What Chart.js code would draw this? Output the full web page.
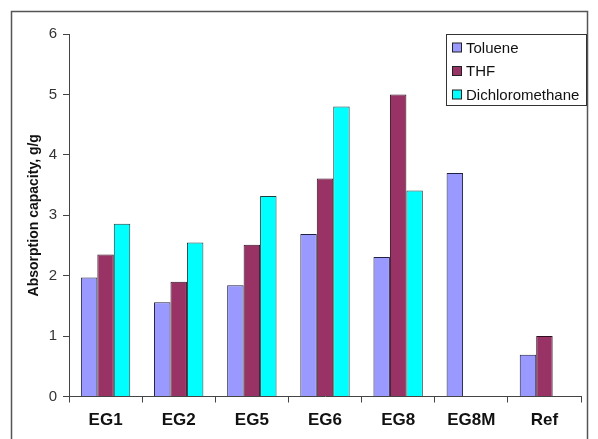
<!DOCTYPE html>
<html>
<head>
<meta charset="utf-8">
<script src="https://cdn.jsdelivr.net/npm/chart.js@4/dist/chart.umd.min.js"></script>
<style>
  html, body { margin: 0; padding: 0; background: #fff; }
  #wrap { position: relative; width: 598px; height: 439px; }
</style>
</head>
<body>
<div id="wrap"><canvas id="absorb-chart" width="598" height="439"></canvas></div>
<script>
// sample names along the x axis
var samples = ["EG1", "EG2", "EG5", "EG6", "EG8", "EG8M", "Ref"];
// absorption capacity, g/g
var toluene = [1.97, 1.56, 1.84, 2.69, 2.31, 3.70, 0.69];
var thf = [2.35, 1.90, 2.51, 3.61, 5.00, null, 1.00];
var dichloromethane = [2.86, 2.55, 3.32, 4.80, 3.41, null, null];
var yTicks = [0, 1, 2, 3, 4, 5, 6];

var font = "'Liberation Sans', Arial, sans-serif";

// outer frame around the figure
var framePlugin = {
  id: 'frame',
  beforeDraw: function(chart) {
    var ctx = chart.ctx;
    ctx.save();
    ctx.strokeStyle = '#555';
    ctx.lineWidth = 1.5;
    ctx.strokeRect(11.5, 11.5, 576, 520);
    ctx.restore();
  }
};

// boxed legend in the top right corner, like the original
var boxLegend = {
  id: 'boxLegend',
  afterDraw: function(chart) {
    var ctx = chart.ctx;
    var x = 446, y = 34, w = 140, h = 71;
    ctx.save();
    ctx.fillStyle = '#fff';
    ctx.fillRect(x, y, w, h);
    ctx.strokeStyle = '#333';
    ctx.lineWidth = 1;
    ctx.strokeRect(x + 0.5, y + 0.5, w, h);
    ctx.font = '15px ' + font;
    ctx.textBaseline = 'middle';
    chart.data.datasets.forEach(function(ds, i) {
      var cy = y + 13.5 + i * 23.5;
      ctx.fillStyle = ds.backgroundColor;
      ctx.fillRect(452.5, cy - 4.5, 9, 9);
      ctx.strokeStyle = '#222';
      ctx.strokeRect(452.5, cy - 4.5, 9, 9);
      ctx.fillStyle = '#111';
      ctx.fillText(ds.label, 466, cy + 1);
    });
    ctx.restore();
  }
};

new Chart(document.getElementById("absorb-chart"), {
  type: 'bar',
  data: {
    labels: samples,
    datasets: [{
        label: "Toluene",
        data: toluene,
        backgroundColor: "#9999FF",
        borderColor: "#202040",
        borderWidth: 1
      }, {
        label: "THF",
        data: thf,
        backgroundColor: "#993366",
        borderColor: "#301020",
        borderWidth: 1
      }, {
        label: "Dichloromethane",
        data: dichloromethane,
        backgroundColor: "#00FFFF",
        borderColor: "#204040",
        borderWidth: 1
      }
    ]
  },
  options: {
    responsive: false,
    animation: false,
    devicePixelRatio: 1,
    layout: { padding: { left: 22, top: 34, right: 17, bottom: 0 } },
    datasets: { bar: { categoryPercentage: 0.675, barPercentage: 1 } },
    plugins: {
      legend: { display: false },
      tooltip: { enabled: false }
    },
    scales: {
      x: {
        offset: true,
        grid: { display: true, offset: true, drawOnChartArea: false, drawTicks: true, tickLength: 6, color: '#444' },
        border: { display: true, color: '#444', width: 1 },
        ticks: { color: '#111', padding: 8, font: { family: font, size: 17, weight: 'bold' } },
        afterFit: function(scale) { scale.height = 42.5; }
      },
      y: {
        min: 0,
        max: 6,
        afterBuildTicks: function(scale) {
          scale.ticks = yTicks.map(function(v) { return { value: v }; });
        },
        grid: { display: true, drawOnChartArea: false, drawTicks: true, tickLength: 6, color: '#444' },
        border: { display: true, color: '#444', width: 1 },
        ticks: { color: '#333', padding: 6, font: { family: font, size: 15 } },
        title: {
          display: true,
          text: 'Absorption capacity, g/g',
          color: '#111',
          font: { family: font, size: 14, weight: 'bold' },
          padding: { top: 4, bottom: 4 }
        },
        afterFit: function(scale) { scale.width = 47; }
      }
    }
  },
  plugins: [framePlugin, boxLegend]
});
</script>
</body>
</html>
